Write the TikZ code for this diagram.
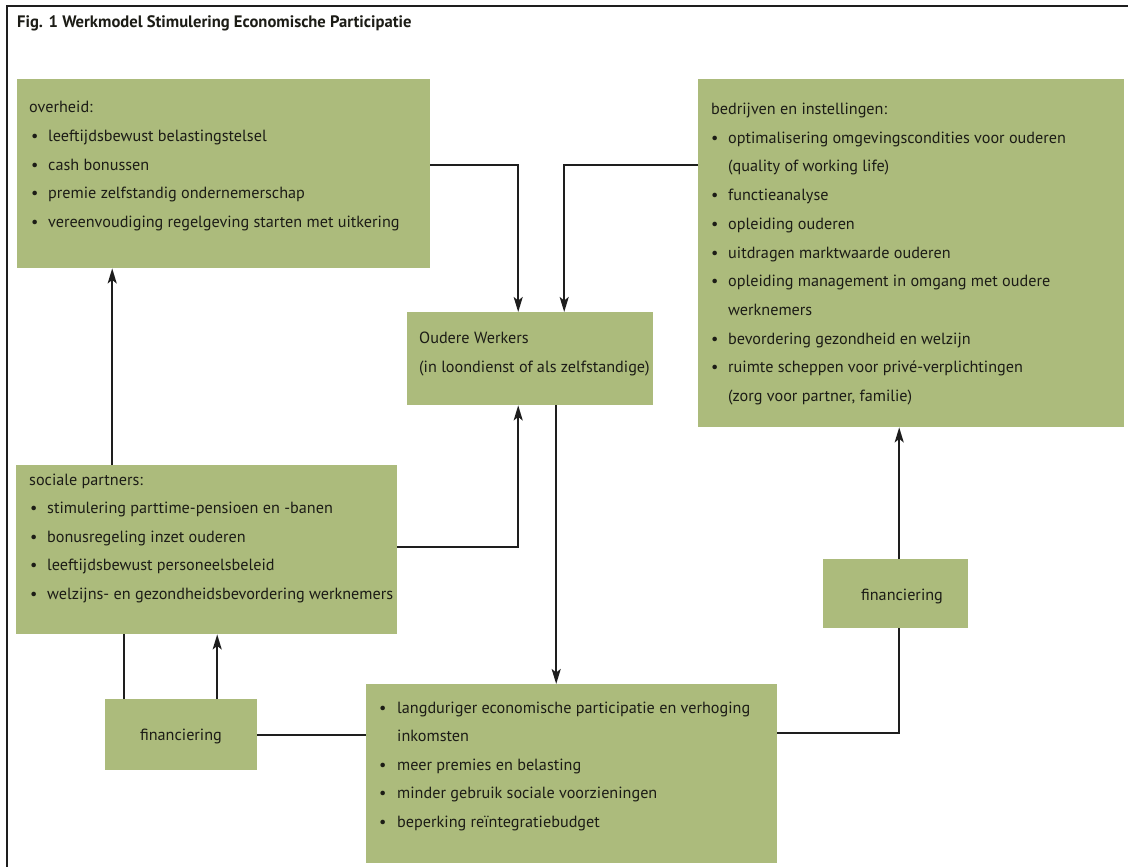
\documentclass[tikz,border=0pt]{standalone}
\usepackage{fontspec}
\setmainfont{PT Sans}
\usetikzlibrary{arrows.meta}
\definecolor{boxc}{RGB}{172,187,124}
\definecolor{txtc}{RGB}{28,28,22}
\definecolor{linec}{RGB}{30,30,30}
\newcommand\fsmain{\fontsize{16.2}{19}\selectfont}
\newcommand\fstitle{\fontsize{16.6}{19}\selectfont\bfseries}
\begin{document}
\begin{tikzpicture}[x=1pt,y=-1pt,
  box/.style={fill=boxc, draw=none, inner sep=0, anchor=north west},
  txt/.style={anchor=base west, inner sep=0, font=\fsmain, text=txtc},
  ctxt/.style={anchor=base, inner sep=0, font=\fsmain, text=txtc},
  bul/.style={anchor=base west, inner sep=0, font=\fsmain, text=txtc},
  ln/.style={draw=linec, line width=2pt},
  arr/.style={ln, -{Stealth[length=15pt,width=9pt,inset=3.5pt]}},
  frame/.style={draw=linec, line width=1.4pt}]
\useasboundingbox (0,0) rectangle (1128,867);
\fill[white] (0,0) rectangle (1128,867);
% frame
\coordinate (fTL) at (7,6);
\coordinate (fTR) at (1128,6);
\coordinate (fBL) at (7,867);
\draw[frame] (fTR) -- (fTL) -- (fBL);
% title
\node[anchor=base west, inner sep=0, font=\fstitle, text=txtc] (title) at (17,28) {Fig. 1 Werkmodel Stimulering Economische Participatie};
% boxes
\node[box, minimum width=413pt, minimum height=189pt] (ov) at (17,79) {};
\node[box, minimum width=426pt, minimum height=348pt] (bi) at (698,79) {};
\node[box, minimum width=246pt, minimum height=93pt] (ow) at (407,312) {};
\node[box, minimum width=381pt, minimum height=169pt] (sp) at (16,465) {};
\node[box, minimum width=152pt, minimum height=71pt] (fl) at (105,699) {};
\node[box, minimum width=145pt, minimum height=69pt] (fr) at (823,559) {};
\node[box, minimum width=411pt, minimum height=179pt] (bt) at (366,684) {};
% overheid text
\node[txt] (ovh) at (29,113) {overheid:};
\node[bul] (ovb1) at (31,141.5) {\textbullet};
\node[txt] (ov1) at (48,141.5) {leeftijdsbewust belastingstelsel};
\node[bul] (ovb2) at (31,170) {\textbullet};
\node[txt] (ov2) at (48,170) {cash bonussen};
\node[bul] (ovb3) at (31,198.5) {\textbullet};
\node[txt] (ov3) at (48,198.5) {premie zelfstandig ondernemerschap};
\node[bul] (ovb4) at (31,227) {\textbullet};
\node[txt] (ov4) at (48,227) {vereenvoudiging regelgeving starten met uitkering};
% bedrijven text
\node[txt] (bih) at (711,114.5) {bedrijven en instellingen:};
\node[bul] (bib1) at (711,143.2) {\textbullet};
\node[txt] (bi1) at (728,143.2) {optimalisering omgevingscondities voor ouderen};
\node[txt] (bi1b) at (728,171.9) {(quality of working life)};
\node[bul] (bib2) at (711,200.6) {\textbullet};
\node[txt] (bi2) at (728,200.6) {functieanalyse};
\node[bul] (bib3) at (711,229.3) {\textbullet};
\node[txt] (bi3) at (728,229.3) {opleiding ouderen};
\node[bul] (bib4) at (711,258) {\textbullet};
\node[txt] (bi4) at (728,258) {uitdragen marktwaarde ouderen};
\node[bul] (bib5) at (711,286.7) {\textbullet};
\node[txt] (bi5) at (728,286.7) {opleiding management in omgang met oudere};
\node[txt] (bi5b) at (728,315.4) {werknemers};
\node[bul] (bib6) at (711,344.1) {\textbullet};
\node[txt] (bi6) at (728,344.1) {bevordering gezondheid en welzijn};
\node[bul] (bib7) at (711,372.8) {\textbullet};
\node[txt] (bi7) at (728,372.8) {ruimte scheppen voor privé-verplichtingen};
\node[txt] (bi7b) at (728,401.5) {(zorg voor partner, familie)};
% oudere werkers text
\node[txt] (ow1) at (419,343) {Oudere Werkers};
\node[txt] (ow2) at (419,372) {(in loondienst of als zelfstandige)};
% sociale partners text
\node[txt] (sph) at (29,485) {sociale partners:};
\node[bul] (spb1) at (30,513.5) {\textbullet};
\node[txt] (sp1) at (47,513.5) {stimulering parttime-pensioen en -banen};
\node[bul] (spb2) at (30,542) {\textbullet};
\node[txt] (sp2) at (47,542) {bonusregeling inzet ouderen};
\node[bul] (spb3) at (30,570.5) {\textbullet};
\node[txt] (sp3) at (47,570.5) {leeftijdsbewust personeelsbeleid};
\node[bul] (spb4) at (30,599) {\textbullet};
\node[txt] (sp4) at (47,599) {welzijns- en gezondheidsbevordering werknemers};
% financiering text
\node[ctxt] (flt) at (181,740) {financiering};
\node[ctxt] (frt) at (902,600) {financiering};
% bottom text
\node[bul] (btb1) at (379,713) {\textbullet};
\node[txt] (bt1) at (397,713) {langduriger economische participatie en verhoging};
\node[txt] (bt1b) at (397,741.5) {inkomsten};
\node[bul] (btb2) at (379,770) {\textbullet};
\node[txt] (bt2) at (397,770) {meer premies en belasting};
\node[bul] (btb3) at (379,798.5) {\textbullet};
\node[txt] (bt3) at (397,798.5) {minder gebruik sociale voorzieningen};
\node[bul] (btb4) at (379,827) {\textbullet};
\node[txt] (bt4) at (397,827) {beperking reïntegratiebudget};
% connectors
\draw[arr] ([yshift=8.5pt]ov.east) -| ([xshift=-12pt]ow.north);
\draw[arr] ([yshift=88pt]bi.west) -| ([xshift=34pt]ow.north);
\draw[arr] ([yshift=2.5pt]sp.east) -| ([xshift=-12pt]ow.south);
\draw[arr] ([xshift=-94.5pt]sp.north) -- ([xshift=-94.5pt]sp.north |- ov.south);
\draw[arr] ([xshift=26pt]ow.south) -- ([xshift=26pt]ow.south |- bt.north);
\draw[ln] ([xshift=-57pt]fl.north) -- ([xshift=-57pt]fl.north |- sp.south);
\draw[arr] ([xshift=36pt]fl.north) -- ([xshift=36pt]fl.north |- sp.south);
\draw[ln] (fl.east) -- (fl.east -| bt.west);
\draw[ln] ([yshift=40.5pt]bt.east) -| ([xshift=3.5pt]fr.south);
\draw[arr] ([xshift=3.5pt]fr.north) -- ([xshift=3.5pt]fr.north |- bi.south);
\end{tikzpicture}
\end{document}
